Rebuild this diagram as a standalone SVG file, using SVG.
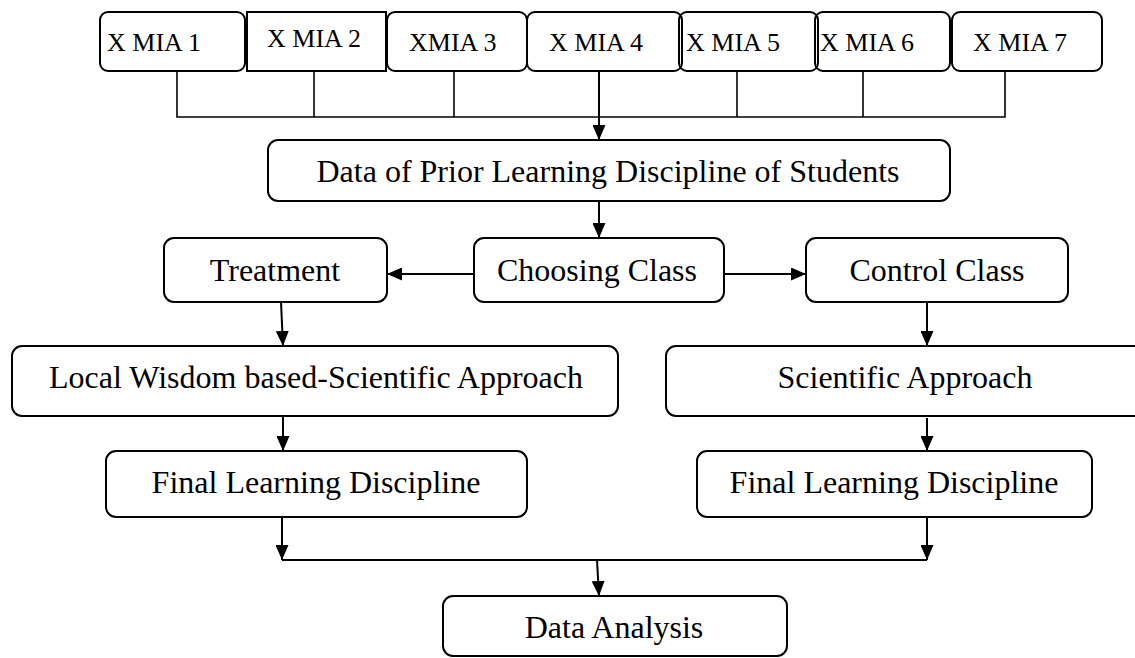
<svg xmlns="http://www.w3.org/2000/svg" width="1135" height="658" viewBox="0 0 1135 658">
<style>
.box{fill:none;stroke:#000;stroke-width:2}
.t{font-family:"Liberation Serif","Times New Roman",serif;font-size:32px;fill:#000;text-anchor:middle}
.s{font-family:"Liberation Serif","Times New Roman",serif;font-size:26px;fill:#000}
.c{fill:none;stroke:#000;stroke-width:1.6}
.a{fill:none;stroke:#000;stroke-width:2;marker-end:url(#ah)}
</style>
<defs>
<marker id="ah" markerUnits="userSpaceOnUse" markerWidth="15" markerHeight="13" refX="15" refY="6.5" orient="auto">
<path d="M0,0 L15,6.5 L0,13 z" fill="#000"/>
</marker>
</defs>
<rect width="1135" height="658" fill="#fff"/>
<g id="connectors">
<polyline class="c" points="177,71 177,117 1005,117 1005,71"/>
<line class="c" x1="314" y1="71" x2="314" y2="117"/>
<line class="c" x1="454" y1="71" x2="454" y2="117"/>
<line class="c" x1="737" y1="71" x2="737" y2="117"/>
<line class="c" x1="863" y1="71" x2="863" y2="117"/>
<line class="a" x1="599" y1="71" x2="599" y2="140"/>
<line class="a" x1="599" y1="201" x2="599" y2="238"/>
<line class="a" x1="474" y1="274" x2="387" y2="274"/>
<line class="a" x1="724" y1="274" x2="806" y2="274"/>
<line class="a" x1="281" y1="302" x2="283" y2="346"/>
<line class="a" x1="927" y1="302" x2="927" y2="346"/>
<line class="a" x1="283" y1="416" x2="283" y2="451"/>
<line class="a" x1="927" y1="418" x2="927" y2="451"/>
<line class="a" x1="282" y1="517" x2="282" y2="560"/>
<line class="a" x1="927" y1="517" x2="927" y2="560"/>
<line class="c" x1="282" y1="560" x2="927" y2="560" style="stroke-width:2"/>
<line class="a" x1="597" y1="560" x2="599" y2="596"/>
</g>
<g id="xmia1"><rect class="box" x="100" y="12" width="145" height="59" rx="8"/><text class="s" x="107" y="51">X MIA 1</text></g>
<g id="xmia2"><rect class="box" x="247" y="12" width="139" height="59"/><text class="s" x="267" y="47">X MIA 2</text></g>
<g id="xmia3"><rect class="box" x="387" y="12" width="140" height="59" rx="8"/><text class="s" x="409" y="51">XMIA 3</text></g>
<g id="xmia4"><rect class="box" x="527" y="12" width="155" height="59" rx="8"/><text class="s" x="549" y="51">X MIA 4</text></g>
<g id="xmia5"><rect class="box" x="679" y="12" width="139" height="59" rx="8"/><text class="s" x="686" y="51">X MIA 5</text></g>
<g id="xmia6"><rect class="box" x="815" y="12" width="135" height="59" rx="8"/><text class="s" x="820" y="51">X MIA 6</text></g>
<g id="xmia7"><rect class="box" x="952" y="12" width="150" height="59" rx="8"/><text class="s" x="973" y="51">X MIA 7</text></g>
<g id="prior"><rect class="box" x="268" y="140" width="682" height="61" rx="10"/><text class="t" x="608" y="182">Data of Prior Learning Discipline of Students</text></g>
<g id="choosing"><rect class="box" x="474" y="238" width="250" height="64" rx="10"/><text class="t" x="597" y="281">Choosing Class</text></g>
<g id="treatment"><rect class="box" x="164" y="238" width="223" height="64" rx="10"/><text class="t" x="275" y="281">Treatment</text></g>
<g id="control"><rect class="box" x="806" y="238" width="262" height="64" rx="10"/><text class="t" x="937" y="281">Control Class</text></g>
<g id="localwisdom"><rect class="box" x="12" y="346" width="606" height="70" rx="10"/><text class="t" x="316" y="388">Local Wisdom based-Scientific Approach</text></g>
<g id="scientific"><rect class="box" x="666" y="346" width="480" height="70" rx="10"/><text class="t" x="905" y="388">Scientific Approach</text></g>
<g id="finalleft"><rect class="box" x="106" y="451" width="421" height="66" rx="10"/><text class="t" x="316" y="493">Final Learning Discipline</text></g>
<g id="finalright"><rect class="box" x="697" y="451" width="395" height="66" rx="10"/><text class="t" x="894" y="493">Final Learning Discipline</text></g>
<g id="analysis"><rect class="box" x="443" y="596" width="344" height="60" rx="10"/><text class="t" x="614" y="638">Data Analysis</text></g>
</svg>
